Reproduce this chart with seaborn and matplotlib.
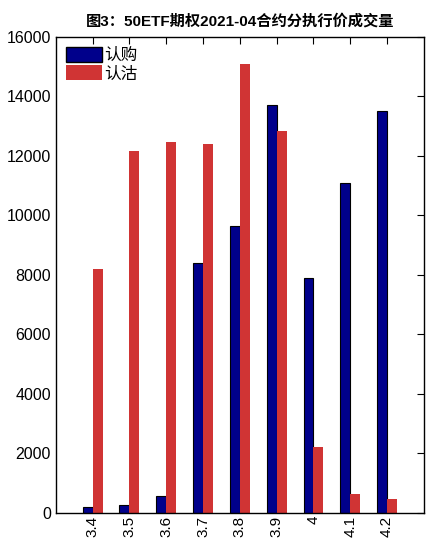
import pandas as pd
import matplotlib
matplotlib.use("Agg")
import matplotlib.pyplot as plt
import seaborn as sns
from matplotlib.patches import Patch

# Strike prices and volumes
strikes = ["3.4", "3.5", "3.6", "3.7", "3.8", "3.9", "4", "4.1", "4.2"]
call_vol = [200, 250, 580, 8400, 9650, 13700, 7900, 11100, 13500]
put_vol = [8200, 12150, 12450, 12400, 15100, 12850, 2200, 650, 480]
series = ["认购", "认沽"]
colors = ["#00008B", "#D03434"]

df = pd.DataFrame({
    "strike": strikes * 2,
    "volume": call_vol + put_vol,
    "type": [series[0]] * len(strikes) + [series[1]] * len(strikes),
})

sns.set_style("white")
plt.rcParams["font.family"] = ["Liberation Sans", "Noto Sans CJK SC", "DejaVu Sans"]
plt.rcParams["text.color"] = "black"
plt.rcParams["xtick.color"] = "black"
plt.rcParams["ytick.color"] = "black"

fig = plt.figure(figsize=(4.26, 5.41), dpi=100)
ax = fig.add_axes([0.131, 0.052, 0.864, 0.880])

sns.barplot(data=df, x="strike", y="volume", hue="type", order=strikes,
            hue_order=series, palette=colors, width=0.54, saturation=1,
            legend=False, ax=ax)

# blue bars have a black outline, red ones don't
n = len(strikes)
for i, p in enumerate(ax.patches):
    if i < n:
        p.set_edgecolor("black")
        p.set_linewidth(0.8)
    else:
        p.set_linewidth(0)

ax.set_xlim(-1, n)
ax.set_ylim(0, 16000)
ax.set_yticks(range(0, 16001, 2000))
ax.set_xlabel("")
ax.set_ylabel("")
ax.tick_params(axis="x", labelrotation=90, labelsize=11, direction="in",
               top=True, length=5, pad=2)
ax.tick_params(axis="y", labelsize=11.5, direction="in", right=True, length=5)
for s in ax.spines.values():
    s.set_linewidth(1)
    s.set_color("black")

ax.set_title("图3：50ETF期权2021-04合约分执行价成交量", fontsize=11,
             fontweight="bold", pad=8, color="black")

handles = [Patch(facecolor=colors[0], edgecolor="black"),
           Patch(facecolor=colors[1], edgecolor="none")]
ax.legend(handles, series, loc="upper left", frameon=False, fontsize=12,
          handlelength=2.2, handleheight=1.0, handletextpad=0.1,
          labelspacing=0.15, borderaxespad=0.2)

fig.savefig("out.png", dpi=100)
